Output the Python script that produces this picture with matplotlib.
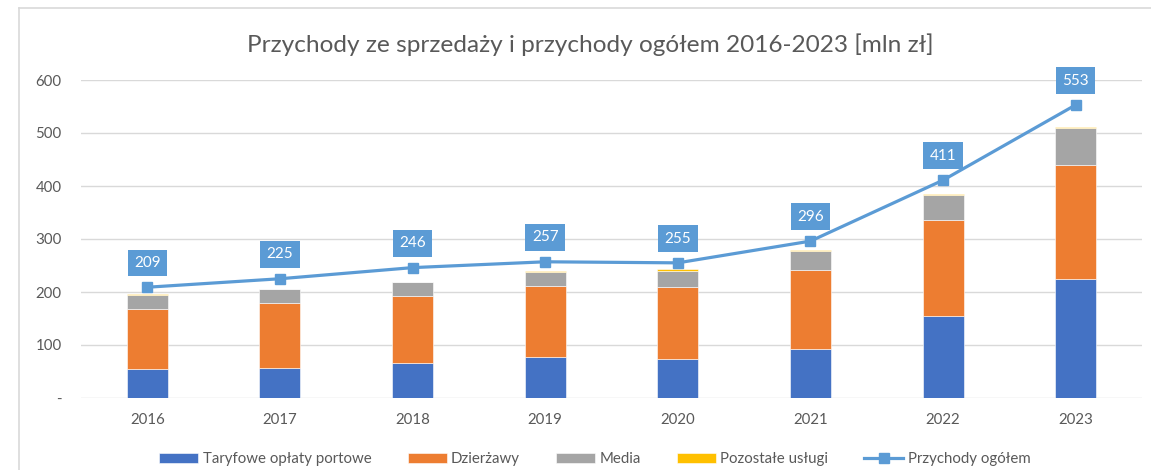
import matplotlib.pyplot as plt
import numpy as np
from matplotlib.lines import Line2D

plt.rcParams['font.family'] = ['Lato', 'DejaVu Sans']

years = ['2016', '2017', '2018', '2019', '2020', '2021', '2022', '2023']
taryfowe = [55, 57, 66, 78, 74, 92, 154, 225]
dzierzawy = [113, 123, 127, 134, 136, 150, 181, 215]
media = [26, 25, 25, 26, 30, 35, 48, 70]
pozostale = [1.5, 1.5, 1.5, 1.5, 2.5, 1.5, 1.5, 1.5]
ogolem = [209, 225, 246, 257, 255, 296, 411, 553]

yticks = [0, 100, 200, 300, 400, 500, 600]
ytick_labels = ['-', '100', '200', '300', '400', '500', '600']

series = [
    ('Taryfowe opłaty portowe', taryfowe, '#4472C4'),
    ('Dzierżawy', dzierzawy, '#ED7D31'),
    ('Media', media, '#A5A5A5'),
    ('Pozostałe usługi', pozostale, '#FFC000'),
]
line_color = '#5B9BD5'
text_color = '#595959'
grid_color = '#D9D9D9'

fig = plt.figure(figsize=(11.51, 4.70), dpi=100)
ax = fig.add_axes([81 / 1151, 1 - 398 / 470, (1142 - 81) / 1151, (398 - 80) / 470])

x = np.arange(len(years))
bottom = np.zeros(len(years))
handles = []
for name, values, color in series:
    bars = ax.bar(x, values, width=0.31, bottom=bottom, color=color, label=name,
                  edgecolor='white', linewidth=0.4, zorder=2)
    handles.append(bars)
    bottom += np.array(values)

line, = ax.plot(x, ogolem, color=line_color, lw=2.3, marker='s', markersize=7,
                label='Przychody ogółem', zorder=3)
handles.append(line)
for xi, v in zip(x, ogolem):
    ax.annotate(str(v), (xi, v), xytext=(0, 17.5), textcoords='offset points',
                ha='center', va='center', color='white', fontsize=11,
                bbox=dict(boxstyle='square,pad=0.42', fc=line_color, ec='none'),
                zorder=4)

ax.set_xlim(-0.5, len(years) - 0.5)
ax.set_ylim(0, 600)
ax.set_xticks(x)
ax.set_xticklabels(years)
ax.set_yticks(yticks)
ax.set_yticklabels(ytick_labels)
ax.tick_params(axis='x', length=0, pad=11, labelsize=10.8, labelcolor=text_color)
ax.tick_params(axis='y', length=0, pad=14, labelsize=10.8, labelcolor=text_color)
ax.grid(axis='y', color=grid_color, lw=1, zorder=0)
ax.set_axisbelow(True)
for spine in ax.spines.values():
    spine.set_visible(False)

fig.text(590 / 1151, 1 - 45 / 470, 'Przychody ze sprzedaży i przychody ogółem 2016-2023 [mln zł]',
         ha='center', va='center', fontsize=17.6, color=text_color)

labels = [h.get_label() for h in handles]
fig.legend(handles, labels, loc='center', bbox_to_anchor=(595 / 1151, 1 - 459 / 470),
           ncol=5, frameon=False, fontsize=10.8, labelcolor=text_color,
           handlelength=2.6, handleheight=0.7, handletextpad=0.3, columnspacing=2.4)

# chart frame (left and top edges visible in the crop)
fig.add_artist(Line2D([19 / 1151, 19 / 1151], [0, 1 - 8 / 470], color=grid_color, lw=1.2))
fig.add_artist(Line2D([19 / 1151, 1], [1 - 8 / 470, 1 - 8 / 470], color=grid_color, lw=1.2))

fig.savefig('out.png', dpi=100)
